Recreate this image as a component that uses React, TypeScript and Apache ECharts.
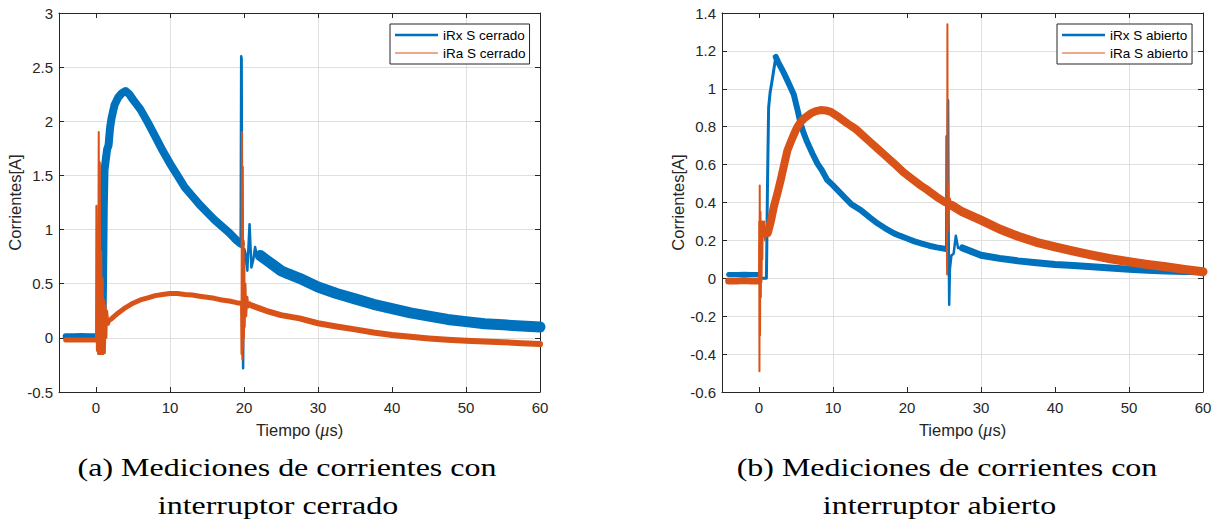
import { useEffect, useRef } from 'react';
import * as echarts from 'echarts';

type Pt = [number, number];

// ---- (a) interruptor cerrado ----
const closedRxPre: Pt[] = [[-4.1, 0.015], [-3, 0.015], [-2, 0.018], [-1, 0.015], [0, 0.015], [0.85, 0.015]];
const closedRxMain: Pt[] = [
  [0.85, 0.015], [0.95, 0.5], [1.05, 1.2], [1.15, 1.55], [1.35, 1.66], [1.5, 1.74], [1.7, 1.78], [1.9, 1.94],
  [2.1, 2.03], [2.5, 2.15], [3.0, 2.22], [3.5, 2.26], [4.0, 2.28], [4.5, 2.25], [5, 2.2], [6, 2.11], [7, 1.99],
  [8, 1.86], [9, 1.73], [10, 1.61], [11, 1.5], [12, 1.39], [13, 1.31], [14, 1.23], [15, 1.16], [16, 1.09],
  [17, 1.03], [18, 0.97], [19, 0.9], [19.55, 0.87],
];
const closedRxSurge: Pt[] = [
  [19.55, 0.87], [19.62, 2.6], [19.68, 2.58], [19.74, 0.9], [19.8, 1.2], [19.88, -0.28], [19.95, 0.6],
  [20.05, 0.82], [20.2, 0.78], [20.45, 0.62], [20.75, 1.05], [21.0, 0.65], [21.25, 0.72], [21.5, 0.84],
  [21.8, 0.74], [22.2, 0.76],
];
const closedRxTail: Pt[] = [
  [22.2, 0.76], [23, 0.72], [24, 0.67], [25, 0.62], [26, 0.59], [27.5, 0.55], [30, 0.47], [32.5, 0.41],
  [35, 0.36], [37.5, 0.31], [40, 0.27], [42.5, 0.23], [45, 0.2], [47.5, 0.17], [50, 0.15], [52.5, 0.13],
  [55, 0.12], [57.5, 0.11], [60, 0.1],
];

const closedRaPre: Pt[] = [[-4.1, -0.02], [-3, -0.02], [-2, -0.02], [-1, -0.02], [0, -0.02]];
const closedRaBurst: Pt[] = [
  [0, -0.02], [0.05, 1.22], [0.12, -0.12], [0.2, 0.9], [0.28, -0.15], [0.37, 1.9], [0.45, -0.15], [0.52, 1.62],
  [0.6, -0.15], [0.7, 0.8], [0.8, -0.15], [0.9, 0.55], [1.0, -0.15], [1.1, 0.35], [1.2, -0.14], [1.3, 0.3],
  [1.4, 0.0], [1.5, 0.25], [1.7, 0.12], [2.0, 0.17],
];
const closedRaMain: Pt[] = [
  [2.0, 0.17], [2.5, 0.2], [3, 0.23], [4, 0.28], [5, 0.32], [6, 0.35], [7, 0.37], [8, 0.39], [9, 0.4],
  [10, 0.41], [11, 0.41], [12, 0.4], [13, 0.395], [14, 0.385], [15, 0.375], [16, 0.365], [17, 0.35],
  [18, 0.34], [19, 0.325], [19.6, 0.32],
];
const closedRaSurge: Pt[] = [
  [19.6, 0.32], [19.66, -0.15], [19.72, 1.9], [19.78, -0.2], [19.84, 1.58], [19.9, -0.1], [19.95, 0.9],
  [20.0, 0.0], [20.05, 0.7], [20.1, 0.1], [20.2, 0.5], [20.3, 0.2], [20.45, 0.38], [20.6, 0.28], [20.8, 0.33],
  [21.0, 0.3],
];
const closedRaTail: Pt[] = [
  [21.0, 0.3], [22, 0.275], [23, 0.25], [25, 0.21], [27.5, 0.18], [30, 0.135], [32.5, 0.105], [35, 0.078],
  [37.5, 0.05], [40, 0.026], [42.5, 0.01], [45, -0.005], [47.5, -0.017], [50, -0.027], [52.5, -0.034],
  [55, -0.04], [57.5, -0.05], [60, -0.057],
];

// ---- (b) interruptor abierto ----
const openRxPre: Pt[] = [[-4.1, 0.02], [-3, 0.02], [-2, 0.022], [-1, 0.02], [0, 0.02]];
const openRxRise: Pt[] = [
  [0, 0.02], [0.15, 0.0], [0.5, 0.0], [1.0, 0.0], [1.05, 0.15], [1.15, 0.5], [1.3, 0.9], [1.5, 0.98],
  [1.8, 1.05], [2.0, 1.1], [2.27, 1.168],
];
const openRxMain: Pt[] = [
  [2.27, 1.168], [2.6, 1.14], [3.0, 1.11], [3.4, 1.08], [4.0, 1.03], [4.7, 0.97], [5.2, 0.89], [5.6, 0.82],
  [6.0, 0.77], [6.5, 0.72], [7.2, 0.66], [7.9, 0.605], [8.5, 0.57], [9.2, 0.52], [10, 0.49], [11.5, 0.43],
  [12.5, 0.39], [13.75, 0.36], [15, 0.32], [16, 0.29], [17, 0.265], [18.25, 0.237], [19, 0.225], [20, 0.21],
  [21, 0.195], [22, 0.183], [23, 0.172], [24, 0.163], [25.3, 0.155],
];
const openRxSurge: Pt[] = [
  [25.3, 0.155], [25.35, 0.75], [25.4, 0.16], [25.55, 0.94], [25.62, 0.3], [25.7, -0.14], [25.8, 0.05],
  [26.0, 0.12], [26.3, 0.13], [26.6, 0.225], [26.9, 0.16], [27.5, 0.16],
];
const openRxTail: Pt[] = [
  [27.5, 0.16], [30, 0.122], [32.5, 0.105], [35, 0.092], [37.5, 0.082], [40, 0.073], [42.5, 0.067],
  [45, 0.061], [47.5, 0.054], [50, 0.048], [52.5, 0.043], [55, 0.038], [57.5, 0.036], [60, 0.034],
];

const openRaPre: Pt[] = [[-4.1, -0.014], [-3, -0.014], [-2, -0.012], [-1, -0.014], [0, -0.014]];
const openRaBurst: Pt[] = [
  [0, -0.014], [0.03, 0.3], [0.06, -0.49], [0.1, 0.49], [0.14, -0.3], [0.2, 0.35], [0.25, -0.1], [0.3, 0.3],
  [0.35, 0.0], [0.4, 0.3], [0.45, 0.1], [0.5, 0.3], [0.6, 0.22], [0.7, 0.3], [0.8, 0.2], [0.9, 0.27],
  [1.0, 0.22], [1.1, 0.26], [1.2, 0.24],
];
const openRaMain: Pt[] = [
  [1.2, 0.24], [1.6, 0.3], [2.0, 0.377], [2.5, 0.45], [2.94, 0.52], [3.4, 0.6], [3.84, 0.675], [4.3, 0.72],
  [4.73, 0.76], [5.2, 0.8], [5.64, 0.825], [6.3, 0.85], [7.0, 0.87], [7.7, 0.882], [8.35, 0.888],
  [9.0, 0.886], [9.7, 0.878], [10.8, 0.85], [11.95, 0.817], [13, 0.79], [13.75, 0.764], [15, 0.72],
  [16, 0.685], [17, 0.65], [18.25, 0.606], [19.5, 0.56], [20.5, 0.53], [21.85, 0.49], [22.8, 0.465],
  [24, 0.43], [25.2, 0.4], [25.35, 0.4],
];
const openRaSurge: Pt[] = [
  [25.35, 0.4], [25.42, 0.02], [25.46, 1.34], [25.5, 0.25], [25.55, 0.5], [25.65, 0.35], [25.8, 0.42],
  [26, 0.386],
];
const openRaTail: Pt[] = [
  [26, 0.386], [27.5, 0.35], [30, 0.307], [32.5, 0.26], [35, 0.222], [37.5, 0.19], [40, 0.166],
  [42.5, 0.143], [45, 0.122], [47.5, 0.103], [50, 0.087], [52.5, 0.073], [55, 0.061], [57.5, 0.047],
  [60, 0.035],
];

const timeTicks = [0, 10, 20, 30, 40, 50, 60];

const BLUE = '#0072BD';
const ORANGE = '#D95319';
const AXIS = '#262626';
const GRID_LINE = '#dfdfdf';
const SANS = '"Liberation Sans", Arial, Helvetica, sans-serif';
const SERIF = '"Liberation Serif", "Times New Roman", serif';

function timeAxis(gridIndex: number, bottom: boolean) {
  return {
    type: 'value',
    gridIndex,
    position: bottom ? 'bottom' : 'top',
    min: -5,
    max: 60,
    interval: 5,
    axisLine: { show: true, onZero: false, lineStyle: { color: AXIS, width: 1 } },
    axisTick: { show: true, inside: true, length: 5, customValues: timeTicks, lineStyle: { color: AXIS } },
    axisLabel: bottom
      ? { show: true, customValues: timeTicks, color: AXIS, fontSize: 15, fontFamily: SANS, margin: 8 }
      : { show: false },
    splitLine: bottom
      ? { show: true, lineStyle: { color: ['rgba(0,0,0,0)', GRID_LINE], width: 1 } }
      : { show: false },
    name: bottom ? 'Tiempo ({mu|μ}s)' : '',
    nameLocation: 'middle',
    nameGap: 29,
    nameTextStyle: {
      color: AXIS,
      fontSize: 16.5,
      fontFamily: SANS,
      rich: { mu: { fontStyle: 'italic', fontFamily: SERIF, fontSize: 18, color: AXIS } },
    },
  };
}

function currentAxis(gridIndex: number, left: boolean, min: number, max: number, interval: number) {
  return {
    type: 'value',
    gridIndex,
    position: left ? 'left' : 'right',
    min,
    max,
    interval,
    axisLine: { show: true, onZero: false, lineStyle: { color: AXIS, width: 1 } },
    axisTick: { show: true, inside: true, length: 5, lineStyle: { color: AXIS } },
    axisLabel: left
      ? {
          show: true,
          color: AXIS,
          fontSize: 15,
          fontFamily: SANS,
          margin: 6,
          formatter: (v: number) => String(parseFloat(v.toFixed(2))),
        }
      : { show: false },
    splitLine: left ? { show: true, lineStyle: { color: GRID_LINE, width: 1 } } : { show: false },
    name: left ? 'Corrientes[A]' : '',
    nameLocation: 'middle',
    nameGap: 36,
    nameTextStyle: { color: AXIS, fontSize: 16.5, fontFamily: SANS },
  };
}

function trace(name: string, data: Pt[], color: string, width: number, axisIndex: number, z: number) {
  return {
    type: 'line',
    name,
    data,
    xAxisIndex: axisIndex,
    yAxisIndex: axisIndex,
    color,
    showSymbol: false,
    symbol: 'none',
    silent: true,
    z,
    itemStyle: { color },
    lineStyle: { color, width, join: 'round', cap: 'round' },
    emphasis: { disabled: true },
  };
}

function legendBox(left: number, names: [string, string]) {
  return {
    left,
    top: 24,
    orient: 'vertical',
    selectedMode: false,
    padding: [4, 4, 4, 5],
    itemGap: 4,
    itemWidth: 43,
    itemHeight: 14,
    borderColor: AXIS,
    borderWidth: 1,
    borderRadius: 0,
    backgroundColor: '#ffffff',
    textStyle: { fontSize: 13.5, color: '#000', fontFamily: SANS },
    data: [
      { name: names[0], icon: 'path://M0,0H43V2.5H0Z', itemStyle: { color: BLUE, borderWidth: 0 } },
      { name: names[1], icon: 'path://M0,0H43V1.2H0Z', itemStyle: { color: ORANGE, borderWidth: 0 } },
    ],
  };
}

function caption(x: number, y: number, text: string) {
  return {
    type: 'text',
    x,
    y,
    scaleX: 1.23,
    style: {
      text,
      font: `26px ${SERIF}`,
      fill: '#000',
      textAlign: 'center',
      textVerticalAlign: 'middle',
      align: 'center',
      verticalAlign: 'middle',
    },
  };
}

const option = {
  animation: false,
  backgroundColor: '#ffffff',
  grid: [
    { left: 59, top: 13, width: 481, height: 379 },
    { left: 722, top: 13, width: 481, height: 379 },
  ],
  xAxis: [timeAxis(0, true), timeAxis(0, false), timeAxis(1, true), timeAxis(1, false)],
  yAxis: [
    currentAxis(0, true, -0.5, 3, 0.5),
    currentAxis(0, false, -0.5, 3, 0.5),
    currentAxis(1, true, -0.6, 1.4, 0.2),
    currentAxis(1, false, -0.6, 1.4, 0.2),
  ],
  legend: [
    legendBox(390, ['iRx S cerrado', 'iRa S cerrado']),
    legendBox(1057, ['iRx S abierto', 'iRa S abierto']),
  ],
  series: [
    trace('iRx S cerrado', closedRxPre, BLUE, 6, 0, 2),
    trace('iRx S cerrado', closedRxMain, BLUE, 8, 0, 2),
    trace('iRx S cerrado', closedRxSurge, BLUE, 2.5, 0, 2),
    trace('iRx S cerrado', closedRxTail, BLUE, 11, 0, 2),
    trace('iRa S cerrado', closedRaPre, ORANGE, 5, 0, 3),
    trace('iRa S cerrado', closedRaBurst, ORANGE, 2, 0, 3),
    trace('iRa S cerrado', closedRaMain, ORANGE, 5, 0, 3),
    trace('iRa S cerrado', closedRaSurge, ORANGE, 2, 0, 3),
    trace('iRa S cerrado', closedRaTail, ORANGE, 6, 0, 3),

    trace('iRx S abierto', openRxPre, BLUE, 5, 2, 2),
    trace('iRx S abierto', openRxRise, BLUE, 3, 2, 2),
    trace('iRx S abierto', openRxMain, BLUE, 6, 2, 2),
    trace('iRx S abierto', openRxSurge, BLUE, 2.5, 2, 2),
    trace('iRx S abierto', openRxTail, BLUE, 7, 2, 2),
    trace('iRa S abierto', openRaPre, ORANGE, 7, 2, 3),
    trace('iRa S abierto', openRaBurst, ORANGE, 2, 2, 3),
    trace('iRa S abierto', openRaMain, ORANGE, 8, 2, 3),
    trace('iRa S abierto', openRaSurge, ORANGE, 2, 2, 3),
    trace('iRa S abierto', openRaTail, ORANGE, 9, 2, 3),
  ],
  graphic: [
    caption(287, 467, '(a) Mediciones de corrientes con'),
    caption(278, 505, 'interruptor cerrado'),
    caption(947, 467, '(b) Mediciones de corrientes con'),
    caption(939.5, 505, 'interruptor abierto'),
  ],
};

export default function App() {
  const ref = useRef<HTMLDivElement>(null);
  useEffect(() => {
    const el = ref.current;
    if (!el) return;
    const chart = echarts.init(el, null, { renderer: 'svg' });
    chart.setOption(option as any);
    return () => chart.dispose();
  }, []);
  return (
    <div
      ref={ref}
      style={{ position: 'fixed', left: 0, top: 0, width: 1217, height: 524, background: '#ffffff' }}
    />
  );
}
